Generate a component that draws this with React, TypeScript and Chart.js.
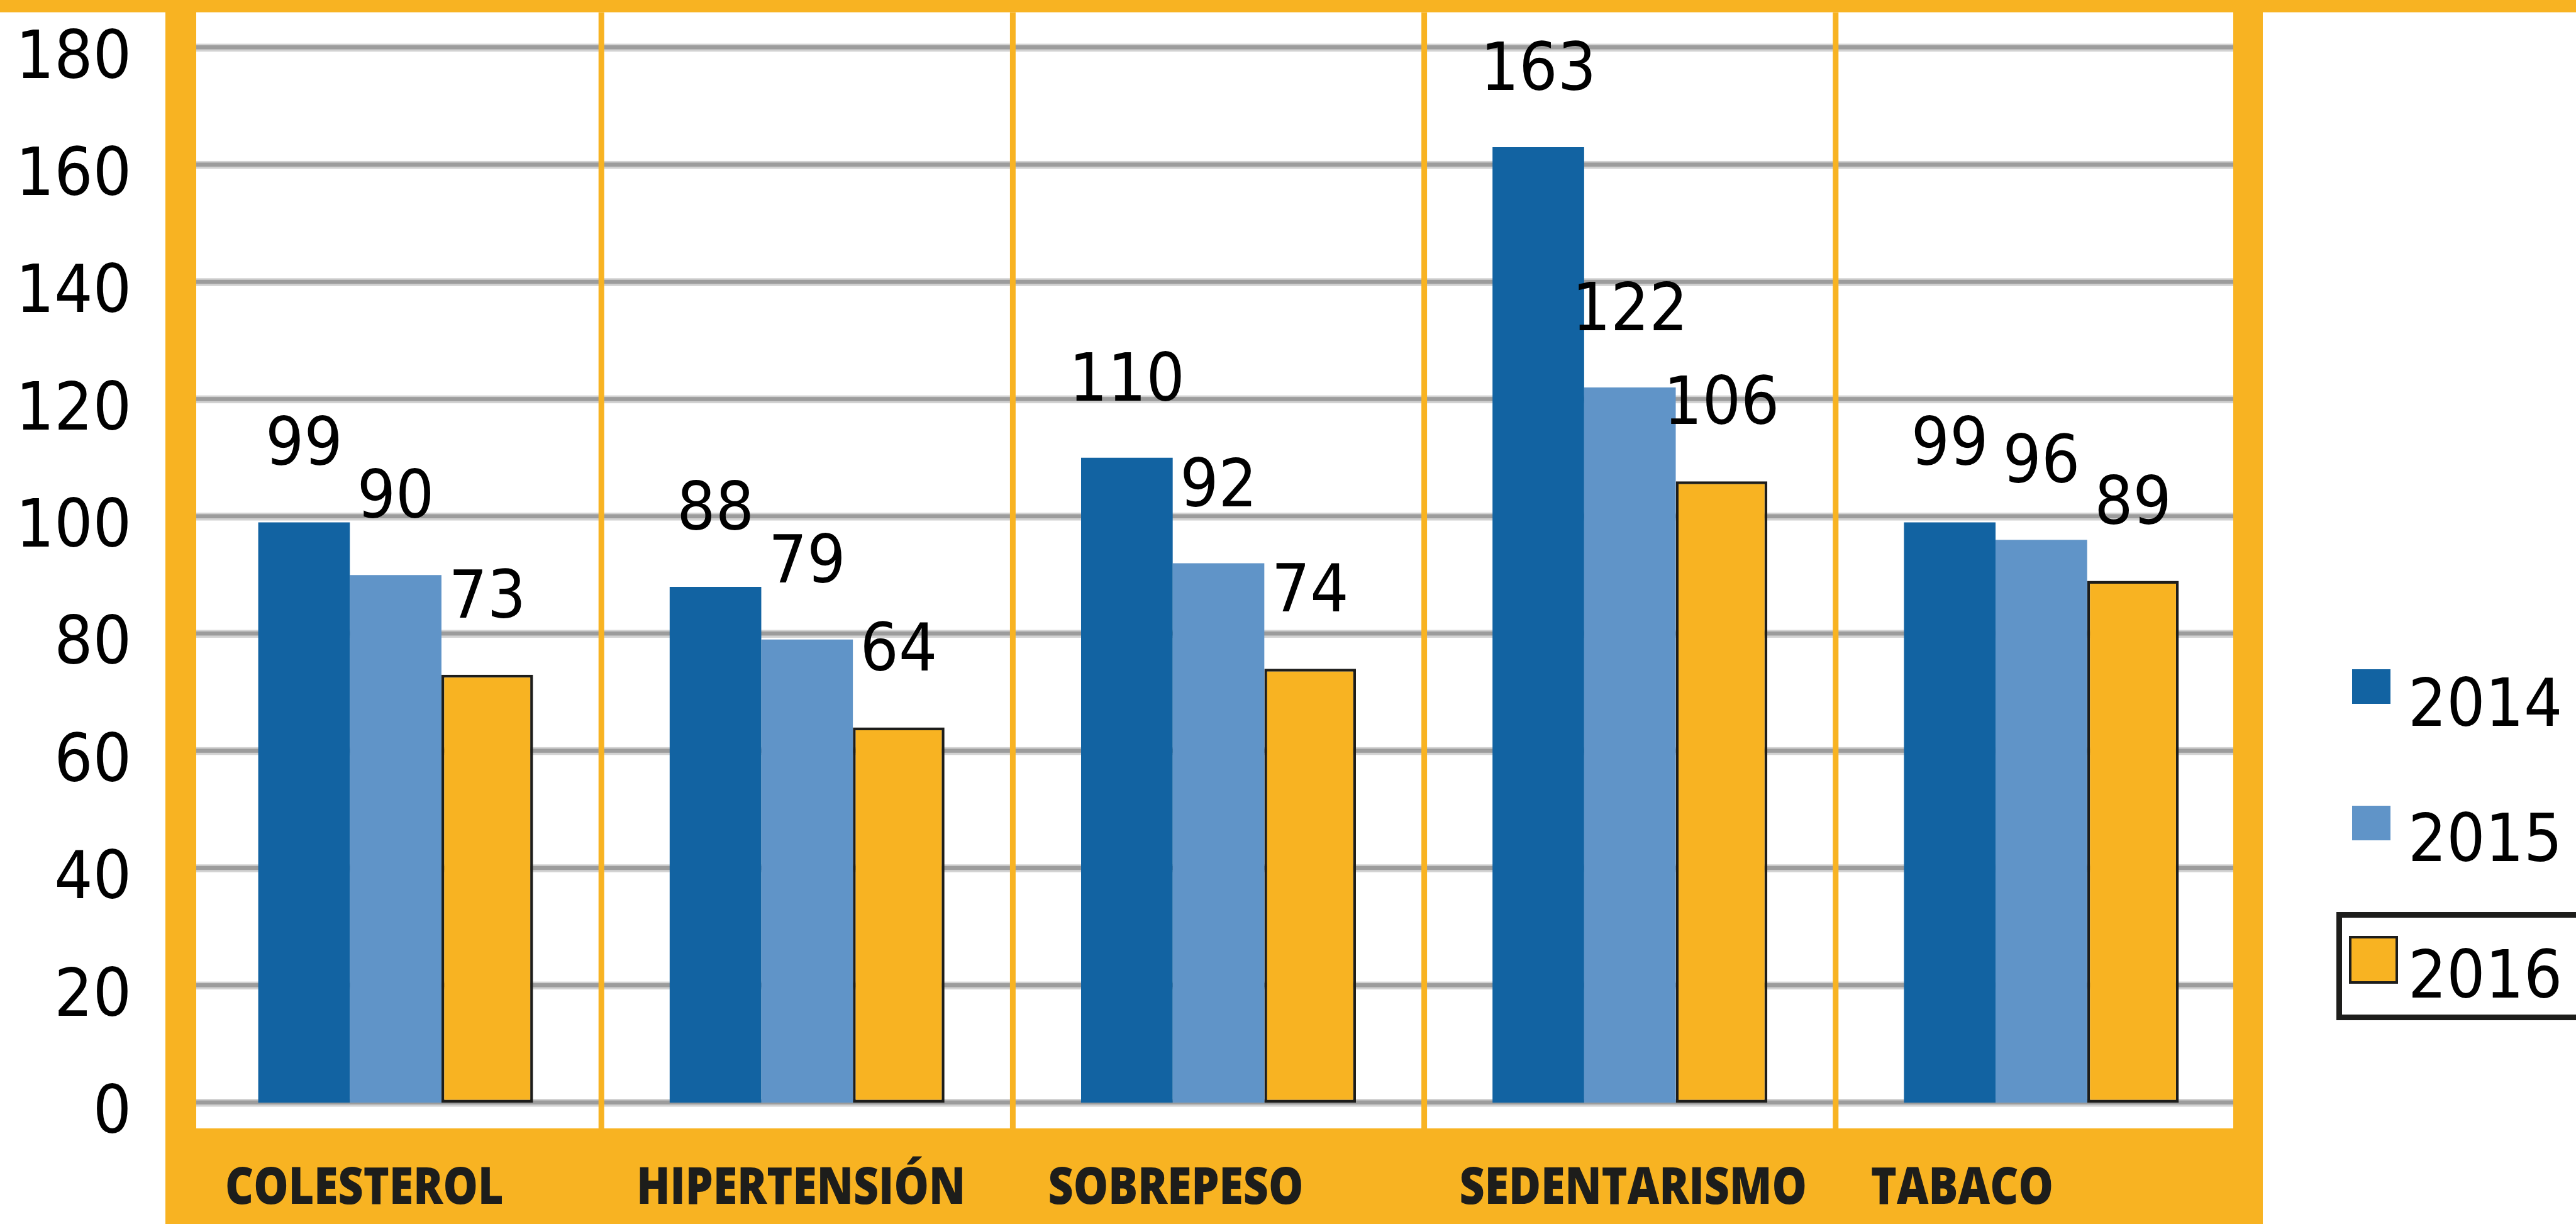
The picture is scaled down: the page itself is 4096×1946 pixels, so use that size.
import React, { useEffect, useRef } from 'react';
import { Chart, registerables } from 'chart.js';

Chart.register(...registerables);

// ---- data ----
const CATEGORIES = ['COLESTEROL', 'HIPERTENSIÓN', 'SOBREPESO', 'SEDENTARISMO', 'TABACO'];
const SERIES_LABELS = ['2014', '2015', '2016'];
const VALUES_2014 = [99, 88, 110, 163, 99];
const VALUES_2015 = [90, 79, 92, 122, 96];
const VALUES_2016 = [73, 64, 74, 106, 89];
const Y_MIN = 0;
const Y_MAX = 180;
const Y_STEP = 20;

// ---- style ----
const W = 4096;
const H = 1946;
const ORANGE = '#F8B322';
const BLUE_DARK = '#1263A2';
const BLUE_LIGHT = '#6094C8';
const INK = '#1D1D1B';
const NUM_FONT = '106px "DejaVu Sans", "Liberation Sans", sans-serif';
const NUM_SX = 0.91;
const CAT_FONT = '800 82px "Open Sans", "Liberation Sans", sans-serif';
const CAT_SX = 0.85;
const TOP_BAR = 19.5;
const BAND_TOP = 1794;

function drawText(ctx: CanvasRenderingContext2D, text: string, x: number, y: number, align: CanvasTextAlign, sx: number) {
  ctx.save();
  ctx.translate(x, y);
  ctx.scale(sx, 1);
  ctx.textAlign = align;
  ctx.textBaseline = 'alphabetic';
  ctx.fillText(text, 0, 0);
  ctx.restore();
}

const framePlugin = {
  id: 'framePlugin',
  beforeDatasetsDraw(chart: any) {
    const { ctx, chartArea: a } = chart;
    const x = chart.scales.x;
    const y = chart.scales.y;
    ctx.save();
    // horizontal gridlines
    y.ticks.forEach((t: any) => {
      const py = y.getPixelForValue(t.value);
      ctx.fillStyle = '#D2D2D2';
      ctx.fillRect(a.left, py - 6, a.right - a.left, 12.5);
      ctx.fillStyle = '#9C9C9C';
      ctx.fillRect(a.left, py - 3.5, a.right - a.left, 6.5);
    });
    // category dividers
    const n = chart.data.labels.length;
    const half = (x.getPixelForValue(1) - x.getPixelForValue(0)) / 2;
    ctx.fillStyle = ORANGE;
    for (let i = 1; i < n; i++) {
      const bx = x.getPixelForValue(i) - half;
      ctx.fillRect(bx - 4.5, TOP_BAR, 9, BAND_TOP - TOP_BAR);
    }
    // top bar
    ctx.fillRect(0, 0, chart.width, TOP_BAR);
    // left / right thick borders
    ctx.fillRect(a.left - 39, 0, 49, BAND_TOP);
    ctx.fillRect(a.right - 22, 0, 47, BAND_TOP);
    // bottom band
    ctx.fillRect(a.left - 39, BAND_TOP, a.right + 25 - (a.left - 39), chart.height - BAND_TOP);
    ctx.restore();
  },
  afterDatasetsDraw(chart: any) {
    const { ctx } = chart;
    const x = chart.scales.x;
    const y = chart.scales.y;
    ctx.save();
    ctx.fillStyle = '#000';
    ctx.font = NUM_FONT;
    // y tick labels
    y.ticks.forEach((t: any) => {
      const py = y.getPixelForValue(t.value);
      drawText(ctx, String(t.value), 209, py + 48, 'right', NUM_SX);
    });
    // data labels
    chart.data.datasets.forEach((ds: any, di: number) => {
      const meta = chart.getDatasetMeta(di);
      meta.data.forEach((el: any, i: number) => {
        drawText(ctx, String(ds.data[i]), el.x, el.y - 91, 'center', NUM_SX);
      });
    });
    // category labels
    const half = (x.getPixelForValue(1) - x.getPixelForValue(0)) / 2;
    ctx.fillStyle = INK;
    ctx.font = CAT_FONT;
    chart.data.labels.forEach((lab: string, i: number) => {
      const left = x.getPixelForValue(i) - half;
      drawText(ctx, lab, left + 56, 1914, 'left', CAT_SX);
    });
    // legend
    const ds = chart.data.datasets;
    const sw = [
      { x: 3740, y: 1064, w: 61, h: 55, base: 1154 },
      { x: 3740, y: 1281, w: 61, h: 55, base: 1369 },
      { x: 3735, y: 1488, w: 78, h: 76, base: 1586 },
    ];
    // selection frame around last entry
    ctx.strokeStyle = INK;
    ctx.lineWidth = 9;
    ctx.strokeRect(3719.5, 1454.5, 500, 163);
    ds.forEach((d: any, i: number) => {
      const s = sw[i];
      ctx.fillStyle = d.backgroundColor;
      ctx.fillRect(s.x, s.y, s.w, s.h);
      if (d.borderWidth) {
        ctx.strokeStyle = INK;
        ctx.lineWidth = 4;
        ctx.strokeRect(s.x + 2, s.y + 2, s.w - 4, s.h - 4);
      }
      ctx.fillStyle = '#000';
      ctx.font = NUM_FONT;
      drawText(ctx, d.label, 3829, s.base, 'left', NUM_SX);
    });
    ctx.restore();
  },
};

export default function App() {
  const ref = useRef<HTMLCanvasElement | null>(null);
  useEffect(() => {
    document.body.style.margin = '0';
    const canvas = ref.current;
    if (!canvas) return;
    const chart = new Chart(canvas, {
      type: 'bar',
      data: {
        labels: CATEGORIES,
        datasets: [
          { label: SERIES_LABELS[0], data: VALUES_2014, backgroundColor: BLUE_DARK, borderWidth: 0 },
          { label: SERIES_LABELS[1], data: VALUES_2015, backgroundColor: BLUE_LIGHT, borderWidth: 0 },
          {
            label: SERIES_LABELS[2],
            data: VALUES_2016,
            backgroundColor: ORANGE,
            borderColor: INK,
            borderWidth: 4.5,
            borderSkipped: false,
          },
        ],
      },
      options: {
        responsive: false,
        animation: false,
        devicePixelRatio: 1,
        layout: { padding: { left: 302, right: 523, top: 75.5, bottom: 193 } },
        datasets: { bar: { categoryPercentage: 0.668, barPercentage: 1.0 } },
        scales: {
          x: { display: false, grid: { display: false } },
          y: { display: false, min: Y_MIN, max: Y_MAX, ticks: { stepSize: Y_STEP } },
        },
        plugins: { legend: { display: false }, tooltip: { enabled: false } },
      },
      plugins: [framePlugin],
    });
    return () => chart.destroy();
  }, []);
  return (
    <div style={{ width: W, height: H, background: '#fff' }}>
      <canvas ref={ref} width={W} height={H} style={{ display: 'block' }} />
    </div>
  );
}
